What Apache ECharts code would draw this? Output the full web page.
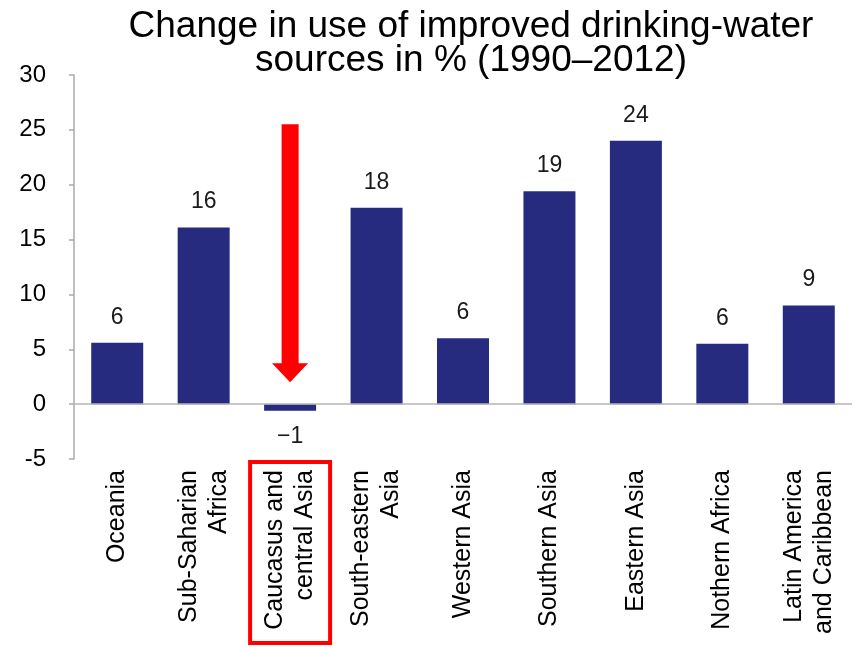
<!DOCTYPE html>
<html>
<head>
<meta charset="utf-8">
<script src="https://cdn.jsdelivr.net/npm/echarts@6/dist/echarts.min.js"></script>
<style>
html,body{margin:0;padding:0;background:#fff;}
#chart{width:860px;height:647px;}
</style>
</head>
<body>
<div id="chart"></div>
<script>
var titleText = "Change in use of improved drinking-water\nsources in % (1990\u20132012)";
var categories = ["Oceania", "Sub-Saharian\nAfrica", "Caucasus and\ncentral Asia", "South-eastern\nAsia", "Western Asia", "Southern Asia", "Eastern Asia", "Nothern Africa", "Latin America\nand Caribbean"];
var values = [5.6, 16.1, -0.6, 17.9, 6.0, 19.4, 24.0, 5.5, 9.0];
var yTicks = { min: -5, max: 30, interval: 5 };
var highlightIndex = 2;
var arrowFrom = 25.5, arrowTo = 2;

var FONT = "Liberation Sans, Arial, sans-serif";
var chart = echarts.init(document.getElementById('chart'), null, { renderer: 'canvas' });

var seriesData = values.map(function (v) {
  var item = { value: v };
  if (v < 0) item.label = { position: 'bottom', distance: 14 };
  return item;
});

var option = {
  animation: false,
  backgroundColor: '#ffffff',
  title: {
    text: titleText,
    left: 466,
    top: 5,
    textAlign: 'center',
    textStyle: { fontFamily: FONT, fontSize: 37, fontWeight: 'normal', color: '#000', lineHeight: 34 }
  },
  grid: { left: 74, right: 8, top: 75, bottom: 188, containLabel: false },
  xAxis: {
    type: 'category',
    data: categories,
    axisLine: { show: false, onZero: false },
    axisTick: { show: false },
    axisLabel: {
      rotate: 90, interval: 0, margin: 11,
      fontFamily: FONT, fontSize: 25, lineHeight: 30, color: '#000'
    }
  },
  yAxis: {
    type: 'value',
    min: yTicks.min, max: yTicks.max, interval: yTicks.interval,
    axisLine: { show: true, lineStyle: { color: '#aaaaaa', width: 1.5 } },
    axisTick: { show: true, length: 5, lineStyle: { color: '#aaaaaa', width: 1.5 } },
    splitLine: { show: false },
    axisLabel: { margin: 28, fontFamily: FONT, fontSize: 24, color: '#000' }
  },
  series: [{
    type: 'bar',
    data: seriesData,
    barWidth: 52,
    itemStyle: { color: '#272B80' },
    label: {
      show: true, position: 'top', distance: 14,
      fontFamily: FONT, fontSize: 23, color: '#1a1a1a',
      formatter: function (p) {
        var r = Math.round(p.value);
        return r < 0 ? '\u2212' + Math.abs(r) : String(r);
      }
    },
    markLine: {
      silent: true, symbol: 'none',
      label: { show: false },
      lineStyle: { color: '#b5b5b5', width: 1.5, type: 'solid' },
      data: [{ yAxis: 0 }]
    }
  }]
};
chart.setOption(option);

function drawOverlays() {
  var top = chart.convertToPixel({ xAxisIndex: 0, yAxisIndex: 0 }, [highlightIndex, arrowFrom]);
  var tip = chart.convertToPixel({ xAxisIndex: 0, yAxisIndex: 0 }, [highlightIndex, arrowTo]);
  var bottomY = chart.convertToPixel({ yAxisIndex: 0 }, yTicks.min);
  var cx = top[0];
  var shaftW = 17, headW = 36, headH = 19;
  var headTop = tip[1] - headH;
  chart.setOption({
    graphic: [
      {
        type: 'polygon', silent: true, z: 100,
        shape: { points: [
          [cx - shaftW / 2, top[1]], [cx + shaftW / 2, top[1]],
          [cx + shaftW / 2, headTop], [cx + headW / 2, headTop],
          [cx, tip[1]], [cx - headW / 2, headTop],
          [cx - shaftW / 2, headTop]
        ] },
        style: { fill: '#ff0000' }
      },
      {
        type: 'rect', silent: true, z: 100,
        shape: { x: cx - 40, y: bottomY + 3, width: 80, height: 645 - bottomY - 5 },
        style: { fill: 'none', stroke: '#ff0000', lineWidth: 4 }
      }
    ]
  });
}
drawOverlays();
</script>
</body>
</html>
